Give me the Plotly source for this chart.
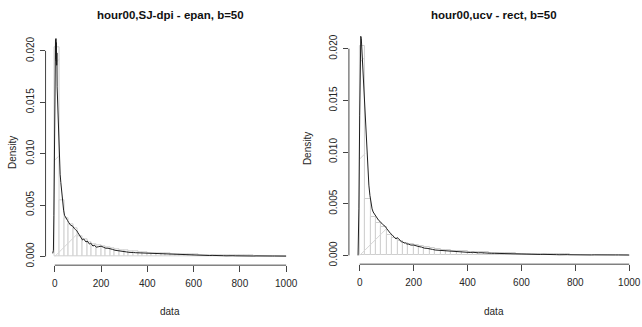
import plotly.graph_objects as go

# ---------------- data ----------------
bin_edges_left = [0, 20, 40, 60, 80, 100, 120, 140, 160, 180, 200, 220, 240, 260, 280, 300, 320, 340, 360, 380,
                  400, 420, 440, 460, 480, 500, 520, 540, 560, 580, 600, 620, 640, 660, 680, 700, 720, 740, 760, 780,
                  800, 820, 840, 860, 880, 900, 920, 940, 960, 980]
hist_density = [0.0203, 0.0055, 0.0037, 0.0031, 0.0027, 0.0020, 0.0017, 0.0014, 0.0012, 0.0011,
                0.0010, 0.0009, 0.0008, 0.0007, 0.0006, 0.00055, 0.0005, 0.00045, 0.0004, 0.00038,
                0.00035, 0.00032, 0.0003, 0.00028, 0.00026, 0.00024, 0.00022, 0.0002, 0.00019, 0.00018,
                0.00016, 0.00015, 0.00014, 0.00013, 0.00012, 0.00011, 0.0001, 0.0001, 0.00009, 0.00008,
                0.00008, 0.00007, 0.00007, 0.00006, 0.00006, 0.00005, 0.00005, 0.00005, 0.00004, 0.00004]

kde_x_left = [-9, -6, -4, -2, 0, 1, 2, 3, 4, 5, 6, 7, 8, 9, 10, 12, 14, 16, 18, 20, 23, 26, 30, 34, 38, 42, 46, 50,
              55, 60, 65, 70, 75, 80, 85, 90, 95, 100, 105, 110, 115, 120, 125, 130, 135, 140, 145, 150, 155, 160,
              165, 170, 175, 180, 190, 200, 210, 220, 230, 240, 250, 260, 270, 280, 290, 300, 310, 320, 330, 340,
              350, 360, 370, 380, 390, 400, 410, 420, 430, 440, 450, 460, 470, 480, 490, 500, 510, 520, 530, 540,
              550, 560, 570, 580, 590, 600, 610, 620, 630, 640, 650, 660, 670, 680, 690, 700, 710, 720, 730, 740,
              750, 760, 770, 780, 790, 800, 810, 820, 830, 840, 850, 860, 870, 880, 890, 900, 910, 920, 930, 940,
              950, 960, 970, 980, 990, 1000]
kde_y_left = [0.0003, 0.0006, 0.004, 0.012, 0.019, 0.0207, 0.0190, 0.0211, 0.0192, 0.0212, 0.0190, 0.0208, 0.0186,
              0.0198, 0.0165, 0.0150, 0.0135, 0.0120, 0.0105, 0.0092, 0.0080, 0.0072, 0.0062, 0.0052, 0.0045,
              0.0040, 0.0038, 0.0037, 0.0035, 0.0033, 0.0031, 0.0030, 0.0030, 0.0028, 0.0027, 0.0026, 0.0025,
              0.0023, 0.0021, 0.0019, 0.0017, 0.0016, 0.0017, 0.0015, 0.0014, 0.0015, 0.0013, 0.0012, 0.0013,
              0.0011, 0.0010, 0.0011, 0.0010, 0.0009, 0.00095, 0.0010, 0.0009, 0.0008, 0.0008, 0.0007, 0.00068,
              0.0006, 0.00058, 0.00052, 0.0005, 0.00046, 0.00044, 0.0004, 0.00042, 0.00038, 0.00036, 0.00035,
              0.00033, 0.00034, 0.0003, 0.00029, 0.00028, 0.0003, 0.00026, 0.00025, 0.00026, 0.00023, 0.00022,
              0.00023, 0.0002, 0.0002, 0.00019, 0.00018, 0.0002, 0.00017, 0.00016, 0.00017, 0.00015, 0.00014,
              0.00015, 0.00013, 0.00012, 0.00012, 0.00011, 0.00012, 0.0001, 0.0001, 0.00009, 0.0001, 0.00008,
              0.00008, 0.00007, 0.00008, 0.00007, 0.00006, 0.00008, 0.00006, 0.00007, 0.00006, 0.00005, 0.00005,
              0.00006, 0.00005, 0.00007, 0.00005, 0.00005, 0.00004, 0.00005, 0.00004, 0.00004, 0.00005, 0.00004,
              0.00004, 0.00003, 0.00004, 0.00004, 0.00003, 0.00004, 0.00003, 0.00003, 0.00003]

kde_x_right = [-6, -3, 0, 2, 4, 6, 8, 10, 12, 14, 16, 18, 20, 23, 26, 30, 34, 38, 42, 46, 50, 55, 60, 65, 70, 75,
               80, 85, 90, 95, 100, 105, 110, 115, 120, 125, 130, 135, 140, 145, 150, 155, 160, 165, 170, 175, 180,
               190, 200, 210, 220, 230, 240, 250, 260, 270, 280, 290, 300, 310, 320, 330, 340, 350, 360, 370, 380,
               390, 400, 410, 420, 430, 440, 450, 460, 470, 480, 490, 500, 510, 520, 530, 540, 550, 560, 570, 580,
               590, 600, 610, 620, 630, 640, 650, 660, 670, 680, 690, 700, 710, 720, 730, 740, 750, 760, 770, 780,
               790, 800, 810, 820, 830, 840, 850, 860, 870, 880, 890, 900, 910, 920, 930, 940, 950, 960, 970, 980,
               990, 1000]
kde_y_right = [0.0, 0.0045, 0.0135, 0.0205, 0.0212, 0.0210, 0.0200, 0.0190, 0.0180, 0.0165, 0.0150, 0.0138,
               0.0127, 0.0113, 0.0100, 0.0083, 0.0068, 0.0058, 0.0050, 0.0045, 0.0042, 0.0040, 0.0037, 0.0035,
               0.0034, 0.0033, 0.0031, 0.0030, 0.0029, 0.0028, 0.0026, 0.0024, 0.0022, 0.0021, 0.0020, 0.0018,
               0.0017, 0.0016, 0.0017, 0.0016, 0.0014, 0.0013, 0.0013, 0.0012, 0.0012, 0.0011, 0.0011, 0.0010,
               0.0010, 0.0009, 0.00085, 0.0008, 0.0007, 0.00068, 0.0006, 0.00058, 0.00052, 0.0005, 0.00046,
               0.00044, 0.0004, 0.00042, 0.00038, 0.00036, 0.00035, 0.00033, 0.00034, 0.0003, 0.00029, 0.00028,
               0.0003, 0.00026, 0.00025, 0.00026, 0.00023, 0.00022, 0.00023, 0.0002, 0.0002, 0.00019, 0.00018,
               0.0002, 0.00017, 0.00016, 0.00017, 0.00015, 0.00014, 0.00015, 0.00013, 0.00012, 0.00012, 0.00011,
               0.00012, 0.0001, 0.0001, 0.00009, 0.0001, 0.00008, 0.00008, 0.00007, 0.00008, 0.00007, 0.00006,
               0.00008, 0.00006, 0.00007, 0.00006, 0.00005, 0.00005, 0.00006, 0.00005, 0.00007, 0.00005, 0.00005,
               0.00004, 0.00005, 0.00004, 0.00004, 0.00005, 0.00004, 0.00004, 0.00005, 0.00004, 0.00004, 0.00004,
               0.00004, 0.00003, 0.00004, 0.00003, 0.00003]

titles = ["hour00,SJ-dpi - epan, b=50", "hour00,ucv - rect, b=50"]
x_ticks = [0, 200, 400, 600, 800, 1000]
y_ticks = [0.000, 0.005, 0.010, 0.015, 0.020]
bin_width = 20

# ---------------- figure ----------------
W, H = 642, 327
FONT = "Liberation Sans, Arial, sans-serif"
TXT = "#262626"
XR = [-40, 1040]
YR = [-0.00085, 0.0220]
# plot-area pixel boxes (left, right, top, bottom)
boxes = [(45.7, 296.3, 30.5, 266.8), (350.0, 642.0, 28.2, 265.8)]

centers = [e + bin_width / 2 for e in bin_edges_left]


def hatch_lines(box, spacing=97.0, nlines=4):
    """R-style 45 degree shading lines (hist(..., density=)) clipped to each bar, in data units."""
    L, R, T, B = box
    sx = (R - L) / (XR[1] - XR[0])
    sy = (B - T) / (YR[1] - YR[0])
    to_px_x = lambda v: L + (v - XR[0]) * sx
    to_px_y = lambda v: B - (v - YR[0]) * sy
    from_px_x = lambda p: XR[0] + (p - L) / sx
    from_px_y = lambda p: YR[0] + (B - p) / sy
    c0 = to_px_x(0) + to_px_y(0)          # first line passes through the origin
    hx, hy = [], []
    for k in range(nlines):
        c = c0 - k * spacing
        for e, h in zip(bin_edges_left, hist_density):
            a, b = to_px_x(e), to_px_x(e + bin_width)
            top, base = to_px_y(h), to_px_y(0)
            xs = max(a, c - base)
            xe = min(b, c - top)
            if xe > xs:
                hx += [from_px_x(xs), from_px_x(xe), None]
                hy += [from_px_y(c - xs), from_px_y(c - xe), None]
    return hx, hy


fig = go.Figure()
panels = [("x", "y", kde_x_left, kde_y_left), ("x2", "y2", kde_x_right, kde_y_right)]
for i, (xa, ya, kx, ky) in enumerate(panels):
    fig.add_trace(go.Bar(
        x=centers, y=hist_density, width=bin_width, xaxis=xa, yaxis=ya,
        marker=dict(color="white", line=dict(color="#cfcfcf", width=1)),
        showlegend=False, hoverinfo="skip"))
    hx, hy = hatch_lines(boxes[i])
    fig.add_trace(go.Scatter(
        x=hx, y=hy, mode="lines", xaxis=xa, yaxis=ya, connectgaps=False,
        line=dict(color="#d6d6d6", width=1), showlegend=False, hoverinfo="skip"))
    fig.add_trace(go.Scatter(
        x=kx, y=ky, mode="lines", xaxis=xa, yaxis=ya,
        line=dict(color="#1e1e1e", width=1), showlegend=False, hoverinfo="skip"))

common_x = dict(range=XR, tickvals=x_ticks, ticks="outside", ticklen=6, tickcolor="#444",
                showgrid=False, zeroline=False, showline=False, ticklabelstandoff=3,
                tickfont=dict(family=FONT, size=10, color=TXT))
common_y = dict(range=YR, tickvals=y_ticks, tickformat=".3f", ticks="outside", ticklen=5,
                tickcolor="#444", tickangle=-90, showgrid=False, zeroline=False, showline=False,
                ticklabelstandoff=2, tickfont=dict(family=FONT, size=10, color=TXT))

(L1, R1, T1, B1), (L2, R2, T2, B2) = boxes
fig.update_layout(
    width=W, height=H, margin=dict(l=0, r=0, t=0, b=0),
    paper_bgcolor="white", plot_bgcolor="white", bargap=0,
    xaxis=dict(domain=[L1 / W, R1 / W], anchor="y", **common_x),
    yaxis=dict(domain=[1 - B1 / H, 1 - T1 / H], anchor="x", **common_y),
    xaxis2=dict(domain=[L2 / W, R2 / W], anchor="y2", **common_x),
    yaxis2=dict(domain=[1 - B2 / H, 1 - T2 / H], anchor="x2", **common_y),
)

shapes = []
annotations = []
for i, (xa, ya) in enumerate([("x", "y"), ("x2", "y2")]):
    # R-style axis lines spanning only the tick range
    shapes.append(dict(type="line", xref=xa, yref=f"{ya} domain", x0=x_ticks[0], x1=x_ticks[-1], y0=0, y1=0,
                       line=dict(color="#444", width=1)))
    shapes.append(dict(type="line", xref=f"{xa} domain", yref=ya, x0=0, x1=0, y0=y_ticks[0], y1=y_ticks[-1],
                       line=dict(color="#444", width=1)))
    annotations.append(dict(text=f"<b>{titles[i]}</b>", xref=f"{xa} domain", yref="paper", x=0.5, y=1 - 15 / H,
                            showarrow=False, font=dict(family=FONT, size=11.5, color="#111"),
                            xanchor="center", yanchor="middle"))
    annotations.append(dict(text="data", xref=f"{xa} domain", yref="paper", x=0.5, y=1 - 313 / H,
                            showarrow=False, font=dict(family=FONT, size=10, color=TXT),
                            xanchor="center", yanchor="middle"))
annotations.append(dict(text="Density", xref="paper", yref="paper", x=12 / W, y=1 - 153 / H, textangle=-90,
                        showarrow=False, font=dict(family=FONT, size=10, color=TXT),
                        xanchor="center", yanchor="middle"))
annotations.append(dict(text="Density", xref="paper", yref="paper", x=308 / W, y=1 - 150 / H, textangle=-90,
                        showarrow=False, font=dict(family=FONT, size=10, color=TXT),
                        xanchor="center", yanchor="middle"))
fig.update_layout(shapes=shapes, annotations=annotations)

fig.write_html("out.html", config={"displayModeBar": False},
               post_script="document.body.style.margin='0px';document.body.style.overflow='hidden';")
